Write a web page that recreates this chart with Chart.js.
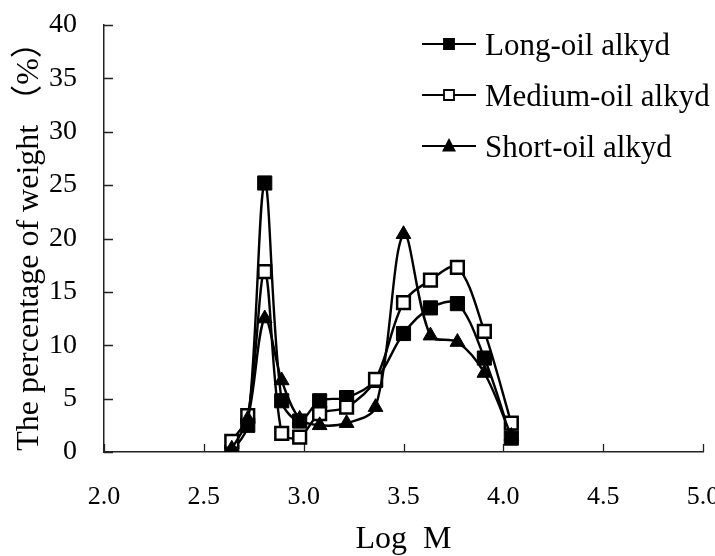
<!DOCTYPE html>
<html><head><meta charset="utf-8">
<script src="https://cdn.jsdelivr.net/npm/chart.js@4/dist/chart.umd.min.js"></script>
<style>html,body{margin:0;padding:0;background:#fff;}canvas{display:block;}</style>
</head><body>
<canvas id="c" width="715" height="556"></canvas>
<script>
// ---- data ----
const logM      = [2.64, 2.72, 2.805, 2.89, 2.98, 3.08, 3.215, 3.36, 3.50, 3.635, 3.77, 3.905, 4.04];
const longOil   = [0.0, 2.5, 25.2, 4.8, 2.9, 4.8, 5.1, 6.7, 11.1, 13.5, 13.9, 8.8, 1.3];
const mediumOil = [1.0, 3.4, 16.9, 1.75, 1.4, 3.6, 4.2, 6.8, 14.0, 16.1, 17.3, 11.3, 2.7];
const shortOil  = [0.3, 3.1, 12.5, 6.7, 3.1, 2.5, 2.7, 4.2, 20.4, 10.9, 10.3, 7.4, 1.5];
const seriesNames = ['Long-oil alkyd', 'Medium-oil alkyd', 'Short-oil alkyd'];
const xTickValues = [2.0, 2.5, 3.0, 3.5, 4.0, 4.5, 5.0];
const yTickValues = [0, 5, 10, 15, 20, 25, 30, 35, 40];
const xTitle = 'Log  M';
const yTitle = 'The percentage of weight （%）';

const FONT = "'Liberation Serif','Times New Roman','Noto Sans CJK SC',serif";
const toPts = ys => logM.map((x, i) => ({x, y: ys[i]}));

const inwardTicks = {
  id: 'inwardTicks',
  beforeDatasetsDraw(chart) {
    const {ctx, scales: {x, y}} = chart;
    ctx.save();
    ctx.strokeStyle = '#222';
    ctx.lineWidth = 1.3;
    ctx.beginPath();
    x.ticks.forEach(t => {
      const px = Math.round(x.getPixelForValue(t.value)) + 0.5;
      ctx.moveTo(px, y.bottom); ctx.lineTo(px, y.bottom - 8);
    });
    y.ticks.forEach(t => {
      const py = Math.round(y.getPixelForValue(t.value)) + 0.5;
      ctx.moveTo(x.left, py); ctx.lineTo(x.left + 9, py);
    });
    ctx.stroke();
    ctx.restore();
  }
};

function marker(ctx, style, fill, cx, cy, s) {
  ctx.beginPath();
  if (style === 'triangle') {
    ctx.moveTo(cx, cy - s * 0.6);
    ctx.lineTo(cx + s * 0.55, cy + s * 0.45);
    ctx.lineTo(cx - s * 0.55, cy + s * 0.45);
    ctx.closePath();
  } else {
    ctx.rect(cx - s / 2, cy - s / 2, s, s);
  }
  ctx.fillStyle = fill;
  ctx.fill();
  ctx.lineWidth = 1.8;
  ctx.strokeStyle = '#000';
  ctx.stroke();
}

const customLegend = {
  id: 'customLegend',
  afterDraw(chart) {
    const {ctx, chartArea} = chart;
    const x0 = chartArea.right - 281, x1 = chartArea.right - 227, tx = chartArea.right - 218;
    const xm = (x0 + x1) / 2;
    const base = [55, 106, 157];
    ctx.save();
    chart.data.datasets.forEach((ds, i) => {
      const cy = base[i] - 11;
      ctx.strokeStyle = '#000';
      ctx.lineWidth = 2.2;
      ctx.beginPath(); ctx.moveTo(x0, cy); ctx.lineTo(x1, cy); ctx.stroke();
      marker(ctx, ds.pointStyle, ds.pointBackgroundColor, xm, cy, 10);
      ctx.fillStyle = '#000';
      ctx.font = '31px ' + FONT;
      ctx.textBaseline = 'alphabetic';
      ctx.textAlign = 'left';
      ctx.fillText(ds.label, tx, base[i]);
    });
    ctx.restore();
  }
};

const common = {
  showLine: true, borderColor: '#000', borderWidth: 2.4, tension: 0.33,
  cubicInterpolationMode: 'default', fill: false, pointBorderColor: '#000'
};

new Chart(document.getElementById('c'), {
  type: 'scatter',
  data: {
    datasets: [
      Object.assign({}, common, {label: seriesNames[0], data: toPts(longOil), order: 3,
        pointStyle: 'rect', pointRadius: 10, pointBorderWidth: 1, pointBackgroundColor: '#000'}),
      Object.assign({}, common, {label: seriesNames[1], data: toPts(mediumOil), order: 2,
        pointStyle: 'rect', pointRadius: 9, pointBorderWidth: 2.5, pointBackgroundColor: '#fff'}),
      Object.assign({}, common, {label: seriesNames[2], data: toPts(shortOil), order: 1,
        pointStyle: 'triangle', pointRadius: 8.5, pointBorderWidth: 1, pointBackgroundColor: '#000'})
    ]
  },
  options: {
    responsive: false, animation: false, devicePixelRatio: 1,
    layout: {padding: {left: 0, right: 12, top: 25, bottom: 0}},
    plugins: {legend: {display: false}, tooltip: {enabled: false}},
    scales: {
      x: {
        type: 'linear', min: 2, max: 5,
        afterBuildTicks: s => { s.ticks = xTickValues.map(v => ({value: v})); },
        afterFit: s => { s.height = 104; s.paddingLeft = 0; s.paddingRight = 0; },
        grid: {display: false},
        border: {display: true, color: '#222', width: 1.5},
        ticks: {padding: 22, color: '#000', font: {family: FONT, size: 26},
          callback: v => Number(v).toFixed(1)},
        title: {display: true, text: xTitle, color: '#000',
          font: {family: FONT, size: 32, lineHeight: 1}, padding: {top: 0, bottom: 0}}
      },
      y: {
        type: 'linear', min: 0, max: 40,
        afterBuildTicks: s => { s.ticks = yTickValues.map(v => ({value: v})); },
        afterFit: s => { s.width = 104; s.paddingTop = 0; s.paddingBottom = 0; },
        grid: {display: false},
        border: {display: true, color: '#222', width: 1.5},
        ticks: {padding: 19, color: '#000', font: {family: FONT, size: 28}},
        title: {display: true, text: yTitle, color: '#000',
          font: {family: FONT, size: 32, lineHeight: 1}, padding: {top: 14, bottom: 0}}
      }
    }
  },
  plugins: [inwardTicks, customLegend]
});
</script>
</body></html>
